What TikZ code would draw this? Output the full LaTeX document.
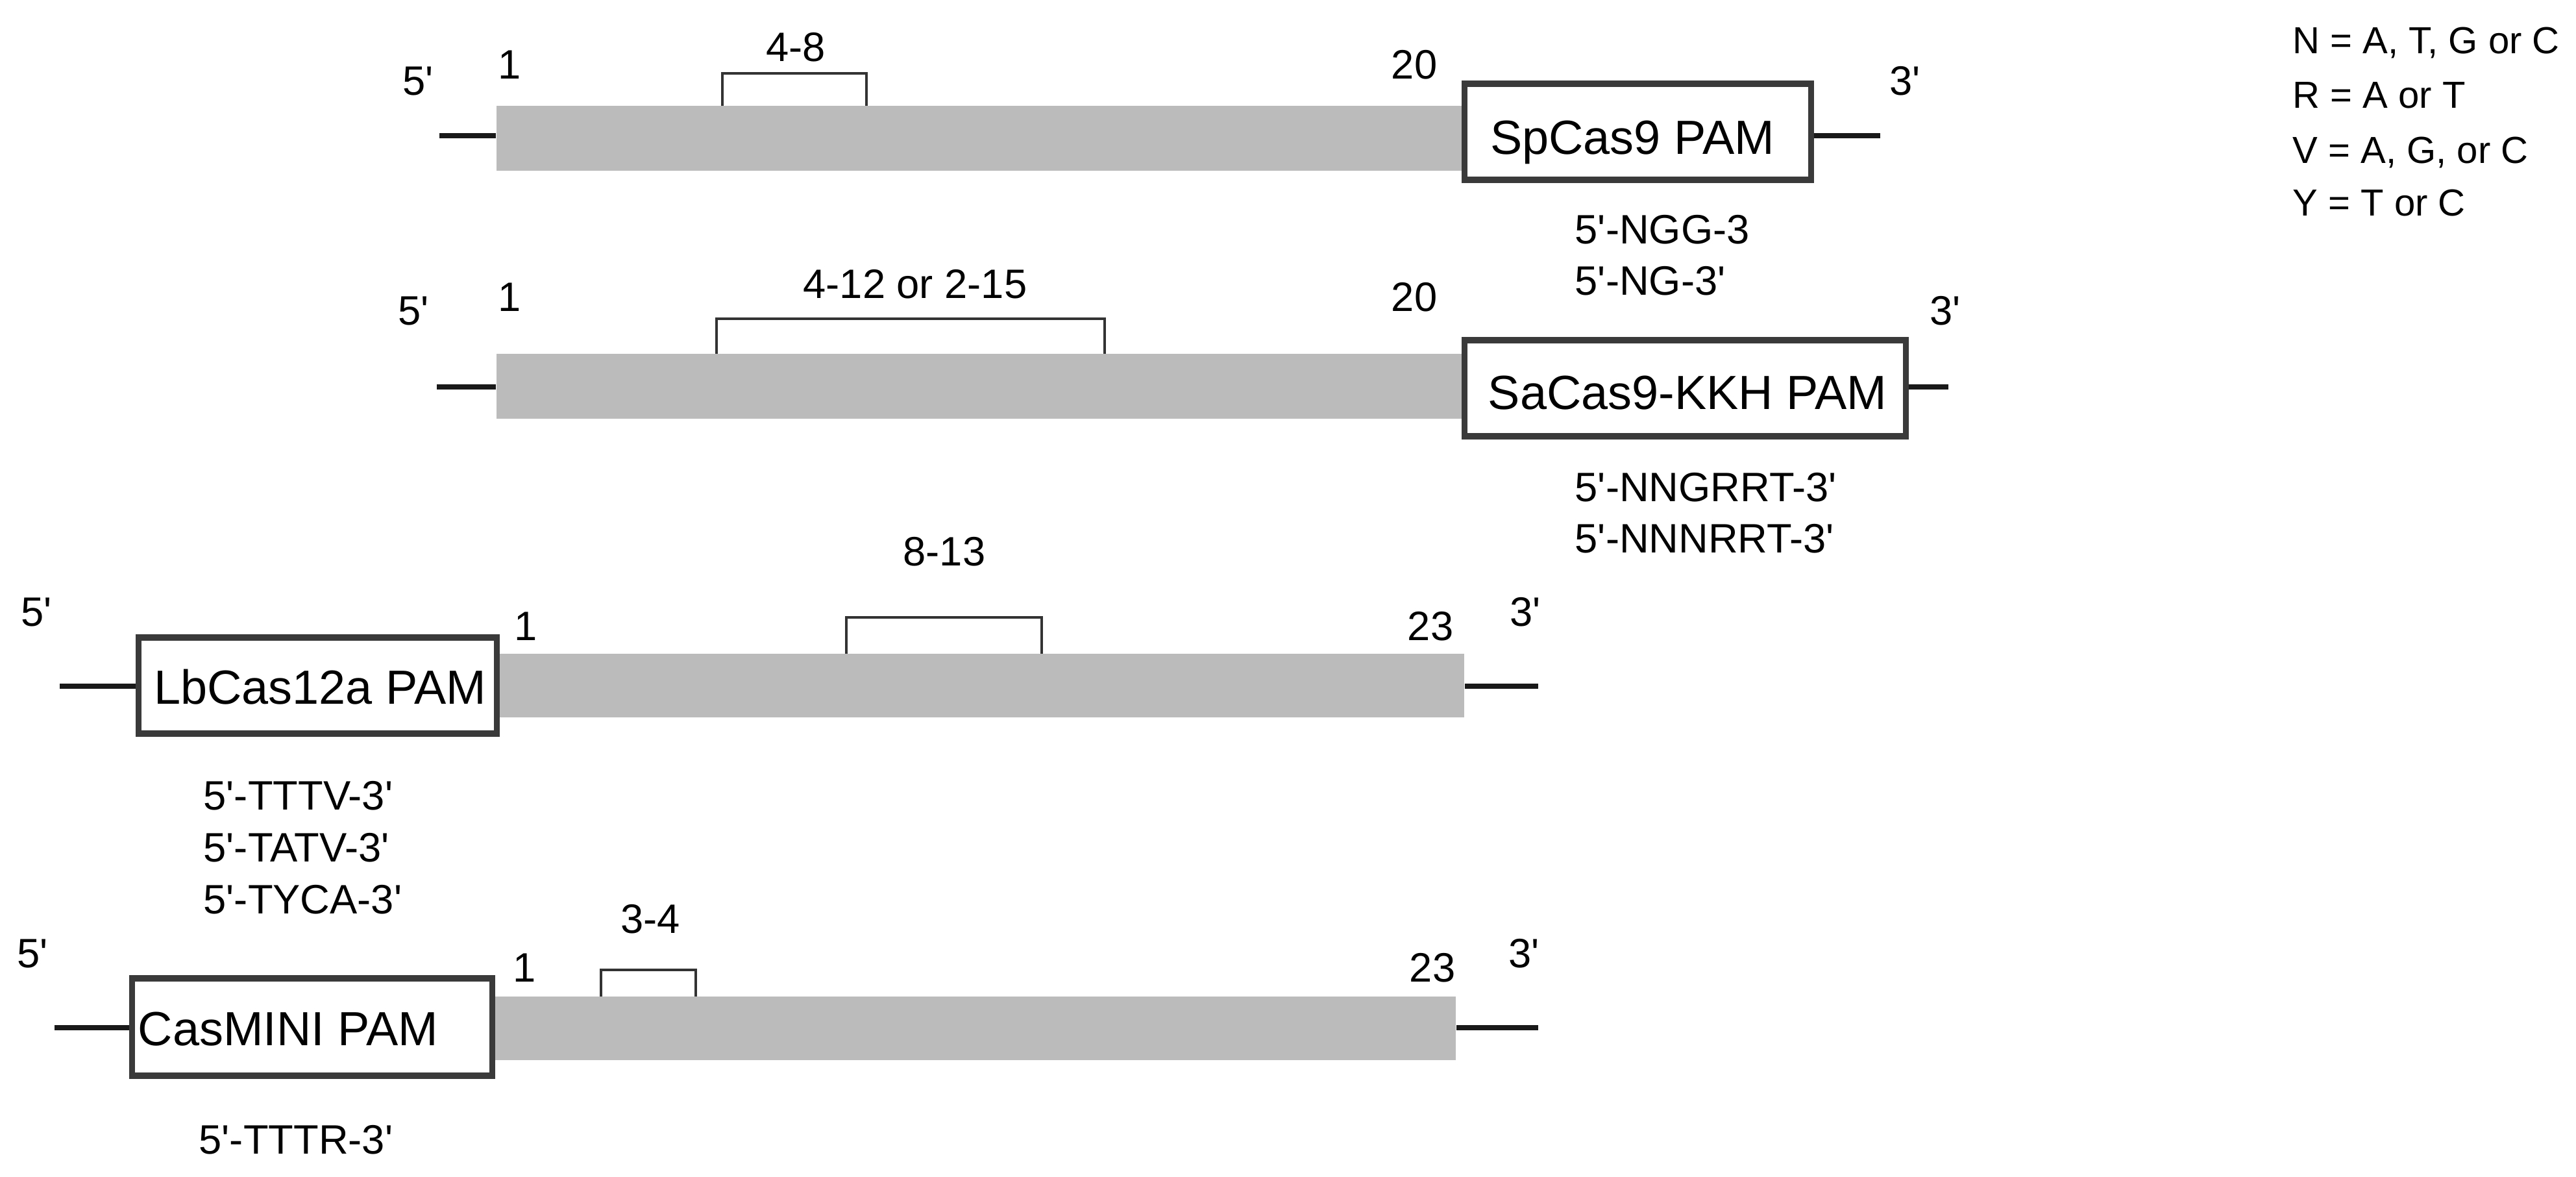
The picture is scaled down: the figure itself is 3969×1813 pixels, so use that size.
\documentclass[tikz,border=0pt]{standalone}
\usepackage{fontspec}
\setmainfont{Liberation Sans}[Ligatures=TeXOff]
\definecolor{bargray}{HTML}{BBBBBB}
\definecolor{boxgray}{HTML}{3A3A3A}
\definecolor{brkgray}{HTML}{333333}
\tikzset{
  dna/.style={line width=2.5pt, draw=black!90},
  gbar/.style={rectangle, fill=bargray, draw=none, inner sep=0pt, minimum height=1cm},
  pambox/.style={rectangle, draw=boxgray, line width=2.6pt, fill=white, inner sep=0pt, minimum height=1.48cm},
  boxtxt/.style={font=\fontsize{21}{25}\selectfont, inner sep=0pt},
  brk/.style={draw=brkgray, line width=1.1pt, line join=miter},
  lbl/.style={font=\fontsize{18}{21}\selectfont, inner sep=0pt},
  leg/.style={font=\fontsize{16.5}{20}\selectfont, inner sep=0pt, anchor=base west},
}
\begin{document}
\begin{tikzpicture}[x=0.01cm,y=-0.01cm]
\useasboundingbox[fill=white] (0,0) rectangle (3969,1813);

% ---------- Row 1: SpCas9 ----------
\node[gbar, minimum width=14.88cm] (bar1) at (1509,213) {};
\node[pambox, minimum width=5.33cm] (box1) at (2523.5,203) {};
\node[boxtxt, anchor=base] (t1) at (2515,238) {SpCas9 PAM};
\coordinate (l1) at (677,209);
\coordinate (r1) at (2897,209);
\draw[dna] (l1) -- (bar1.west |- l1);
\draw[dna] (box1.east |- r1) -- (r1);
\node[lbl, anchor=base] (f1) at (644,147) {5'};
\node[lbl, anchor=base west] (s1) at (767,122) {1};
\node[lbl, anchor=base east] (e1) at (2215,122) {20};
\node[lbl, anchor=base] (g1) at (2935,147) {3'};
\draw[brk] (1113,163) -- (1113,113) -- (1335,113) -- (1335,163);
\node[lbl, anchor=base] (k1) at (1226,95) {4-8};
\node[lbl, anchor=base west] (p1a) at (2426,376) {5'-NGG-3};
\node[lbl, anchor=base west] (p1b) at (2426,455) {5'-NG-3'};

% ---------- Row 2: SaCas9-KKH ----------
\node[gbar, minimum width=14.92cm] (bar2) at (1511,595) {};
\node[pambox, minimum width=6.79cm] (box2) at (2596.5,598) {};
\node[boxtxt, anchor=base] (t2) at (2600,631) {SaCas9-KKH PAM};
\coordinate (l2) at (673,596);
\coordinate (r2) at (3002,596);
\draw[dna] (l2) -- (bar2.west |- l2);
\draw[dna] (box2.east |- r2) -- (r2);
\node[lbl, anchor=base] (f2) at (637,501) {5'};
\node[lbl, anchor=base west] (s2) at (767,480) {1};
\node[lbl, anchor=base east] (e2) at (2215,480) {20};
\node[lbl, anchor=base] (g2) at (2997,501) {3'};
\draw[brk] (1104,545) -- (1104,491) -- (1702,491) -- (1702,545);
\node[lbl, anchor=base] (k2) at (1410,460) {4-12 or 2-15};
\node[lbl, anchor=base west] (p2a) at (2426,773) {5'-NNGRRT-3'};
\node[lbl, anchor=base west] (p2b) at (2426,852) {5'-NNNRRT-3'};

% ---------- Row 3: LbCas12a ----------
\node[gbar, minimum width=14.91cm, minimum height=0.98cm] (bar3) at (1510.5,1056) {};
\node[pambox, minimum width=5.51cm] (box3) at (489.5,1056) {};
\node[boxtxt, anchor=base] (t3) at (493,1085) {LbCas12a PAM};
\coordinate (l3) at (92,1057);
\coordinate (r3) at (2370,1057);
\draw[dna] (l3) -- (box3.west |- l3);
\draw[dna] (bar3.east |- r3) -- (r3);
\node[lbl, anchor=base] (f3) at (56,965) {5'};
\node[lbl, anchor=base west] (s3) at (792,987) {1};
\node[lbl, anchor=base east] (e3) at (2240,987) {23};
\node[lbl, anchor=base] (g3) at (2350,965) {3'};
\draw[brk] (1304,1007) -- (1304,951) -- (1605,951) -- (1605,1007);
\node[lbl, anchor=base] (k3) at (1455,872) {8-13};
\node[lbl, anchor=base west] (p3a) at (313,1247) {5'-TTTV-3'};
\node[lbl, anchor=base west] (p3b) at (313,1327) {5'-TATV-3'};
\node[lbl, anchor=base west] (p3c) at (313,1407) {5'-TYCA-3'};

% ---------- Row 4: CasMINI ----------
\node[gbar, minimum width=14.85cm, minimum height=0.98cm] (bar4) at (1500.5,1584) {};
\node[pambox, minimum width=5.54cm, minimum height=1.5cm] (box4) at (481,1582) {};
\node[boxtxt, anchor=base west] (t4) at (212,1610) {CasMINI PAM};
\coordinate (l4) at (84,1583);
\coordinate (r4) at (2370,1583);
\draw[dna] (l4) -- (box4.west |- l4);
\draw[dna] (bar4.east |- r4) -- (r4);
\node[lbl, anchor=base] (f4) at (50,1490) {5'};
\node[lbl, anchor=base west] (s4) at (790,1512) {1};
\node[lbl, anchor=base east] (e4) at (2243,1512) {23};
\node[lbl, anchor=base] (g4) at (2348,1490) {3'};
\draw[brk] (926,1535) -- (926,1494) -- (1072,1494) -- (1072,1535);
\node[lbl, anchor=base] (k4) at (1002,1437) {3-4};
\node[lbl, anchor=base west] (p4a) at (306,1777) {5'-TTTR-3'};

% ---------- Legend ----------
\node[leg] (n1) at (3532,83) {N = A, T, G or C};
\node[leg] (n2) at (3532,167) {R = A or T};
\node[leg] (n3) at (3532,252) {V = A, G, or C};
\node[leg] (n4) at (3532,333) {Y = T or C};
\end{tikzpicture}
\end{document}
